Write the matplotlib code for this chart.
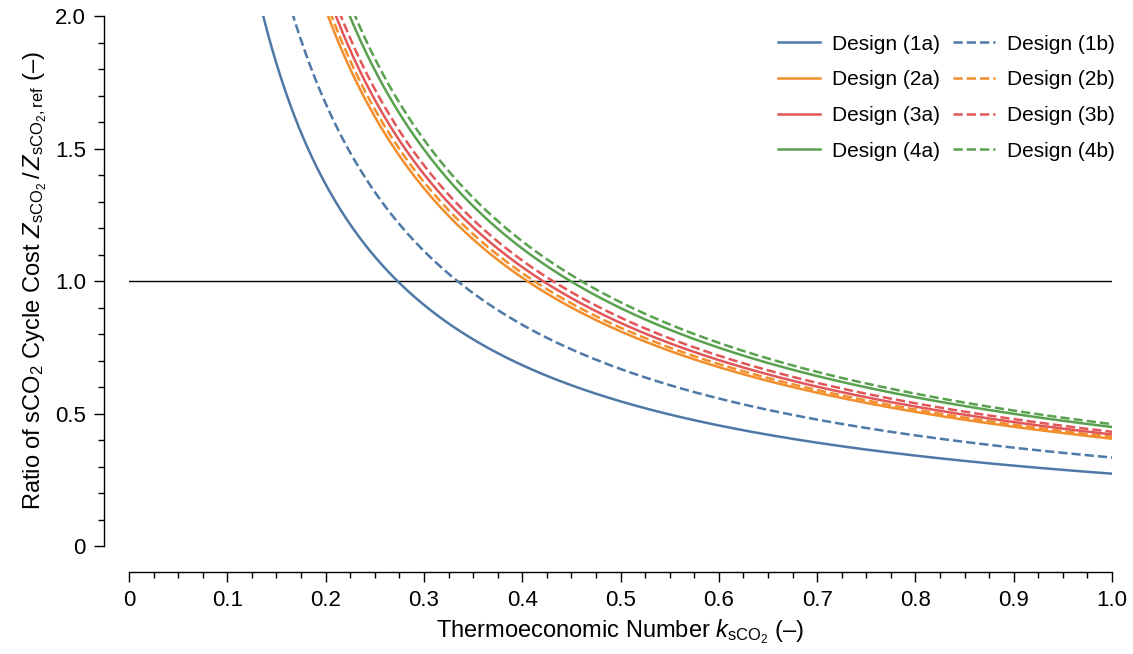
import numpy as np
import matplotlib
matplotlib.use("Agg")
import matplotlib.pyplot as plt
from matplotlib.ticker import MultipleLocator, FuncFormatter

plt.rcParams["font.family"] = ["Liberation Sans", "DejaVu Sans"]
plt.rcParams["mathtext.fontset"] = "custom"
plt.rcParams["mathtext.rm"] = "Liberation Sans"
plt.rcParams["mathtext.it"] = "Liberation Sans:italic"
plt.rcParams["mathtext.bf"] = "Liberation Sans:bold"

# -------------------------------------------------
# Data: each curve is Z/Z_ref = c / k, c read off the chart
# (value of the ratio at k = 1, equal to k where the ratio crosses 1)
# -------------------------------------------------
designs = ["1a", "1b", "2a", "2b", "3a", "3b", "4a", "4b"]
ratio_at_k1 = [0.273, 0.334, 0.405, 0.412, 0.421, 0.431, 0.449, 0.460]
colors = ["#4e79a7", "#4e79a7", "#f28e2b", "#f28e2b",
          "#e15759", "#e15759", "#59a14f", "#59a14f"]
styles = ["-", "--", "-", "--", "-", "--", "-", "--"]

k = np.linspace(0.1, 1.0, 600)

fig = plt.figure(figsize=(11.33, 6.54), dpi=100)
ax = fig.add_axes([0.1139, 0.1651, 0.8676, 0.8104])

ax.plot([0, 1], [1, 1], color="black", lw=1.0, zorder=1)

lines = {}
for name, c, col, ls in zip(designs, ratio_at_k1, colors, styles):
    lines[name], = ax.plot(k, c / k, color=col, ls=ls, lw=1.8,
                           label=f"Design ({name})")

ax.set_xlim(0, 1)
ax.set_ylim(0, 2)

# spines offset like the original
for side in ["top", "right"]:
    ax.spines[side].set_visible(False)
ax.spines["left"].set_position(("outward", 18))
ax.spines["bottom"].set_position(("outward", 19))
ax.spines["left"].set_bounds(0, 2)
ax.spines["bottom"].set_bounds(0, 1)
for side in ["left", "bottom"]:
    ax.spines[side].set_linewidth(1.0)

ax.xaxis.set_major_locator(MultipleLocator(0.1))
ax.xaxis.set_minor_locator(MultipleLocator(0.025))
ax.yaxis.set_major_locator(MultipleLocator(0.5))
ax.yaxis.set_minor_locator(MultipleLocator(0.1))

fmt = FuncFormatter(lambda v, p: "0" if abs(v) < 1e-9 else f"{v:.1f}")
ax.xaxis.set_major_formatter(fmt)
ax.yaxis.set_major_formatter(fmt)

ax.tick_params(which="major", length=7, width=1.0, labelsize=16, pad=6)
ax.tick_params(which="minor", length=4, width=1.0)

ax.set_xlabel(r"Thermoeconomic Number $k_{\mathrm{sCO_2}}$ (–)", fontsize=17)
ax.set_ylabel(r"Ratio of sCO$_2$ Cycle Cost $Z_{\mathrm{sCO_2}}\,/\,Z_{\mathrm{sCO_2,ref}}$ (–)",
              fontsize=17)

# legend is filled column by column: "a" designs left, "b" designs right
order = ["1a", "2a", "3a", "4a", "1b", "2b", "3b", "4b"]
ax.legend([lines[n] for n in order], [f"Design ({n})" for n in order],
          ncol=2, loc="upper right", frameon=False, fontsize=15,
          handlelength=2.0, handletextpad=0.6, columnspacing=0.6,
          labelspacing=0.8, bbox_to_anchor=(1.022, 1.0))

fig.savefig("out.png", dpi=100)
